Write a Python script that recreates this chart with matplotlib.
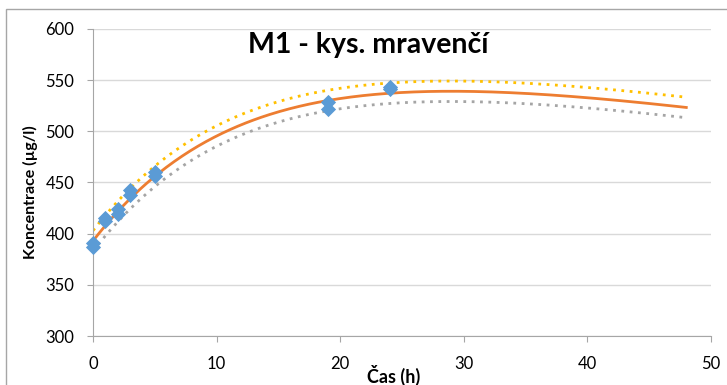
import matplotlib
matplotlib.use("Agg")
import matplotlib.pyplot as plt
import numpy as np
from matplotlib.patches import Rectangle

# measured time points (h) and concentrations (ug/l), two replicates each
time_h = [0, 1, 2, 3, 5, 19, 24]
rep_a = [391, 415, 424, 443, 460, 529, 543]
rep_b = [387, 412, 419, 438, 456, 522, 541]

# kinetic trend model y = a + B*(1 - exp(-k t)) - c*t, coefficients
TREND_A = 393.0
TREND_B = 217.0
TREND_K = 0.08
TREND_C = 1.71
T_END = 48     # trend drawn up to this time
BAND = 10      # offset of the dotted guide lines

TITLE = "M1 - kys. mravenčí"
XLABEL = "Čas (h)"
YLABEL = "Koncentrace (µg/l)"

plt.rcParams["font.family"] = ["Lato", "DejaVu Sans"]


def trend(t):
    return TREND_A + TREND_B * (1 - np.exp(-TREND_K * t)) - TREND_C * t


xs = np.linspace(0, T_END, 300)
ys = trend(xs)

fig = plt.figure(figsize=(7.27, 3.85), dpi=100)
ax = fig.add_axes([0.128, 0.127, 0.850, 0.798])

# frame around the chart area (Excel style)
fig.patches.append(Rectangle((0.008, -0.1), 1.1, 1.077, transform=fig.transFigure,
                             fill=False, edgecolor="#a6a6a6", linewidth=1))

ax.plot(xs, ys + BAND, color="#ffc000", linestyle=(0, (1, 2)), linewidth=2, zorder=2)
ax.plot(xs, ys - BAND, color="#a5a5a5", linestyle=(0, (1, 2)), linewidth=2, zorder=2)
ax.plot(xs, ys, color="#ed7d31", linewidth=2, zorder=3)

for reps in (rep_a, rep_b):
    ax.scatter(time_h, reps, marker="D", s=60, color="#5b9bd5", zorder=4,
               linewidths=0, clip_on=False)

ax.set_xlim(0, 50)
ax.set_ylim(300, 600)
ax.set_xticks(range(0, 51, 10))
ax.set_yticks(range(300, 601, 50))
ax.yaxis.grid(True, color="#d9d9d9", linewidth=1)
ax.set_axisbelow(True)
for s in ["top", "right"]:
    ax.spines[s].set_visible(False)
for s in ["left", "bottom"]:
    ax.spines[s].set_color("#a6a6a6")
ax.tick_params(axis="both", colors="#a6a6a6", labelcolor="#000000", labelsize=12, length=4.5)
ax.tick_params(axis="x", pad=10)
ax.tick_params(axis="y", pad=9)

fig.text(0.507, 0.883, TITLE, fontsize=20.5, fontweight="bold", ha="center", va="center")
ax.set_xlabel(XLABEL, fontsize=13, fontweight="bold")
ax.xaxis.set_label_coords(0.487, -0.127)
ax.xaxis.label.set_va("center")
ax.set_ylabel(YLABEL, fontsize=11.5, fontweight="bold")
ax.yaxis.set_label_coords(-0.102, 0.47)
ax.yaxis.label.set_va("center")

fig.savefig("out.png", dpi=100)
